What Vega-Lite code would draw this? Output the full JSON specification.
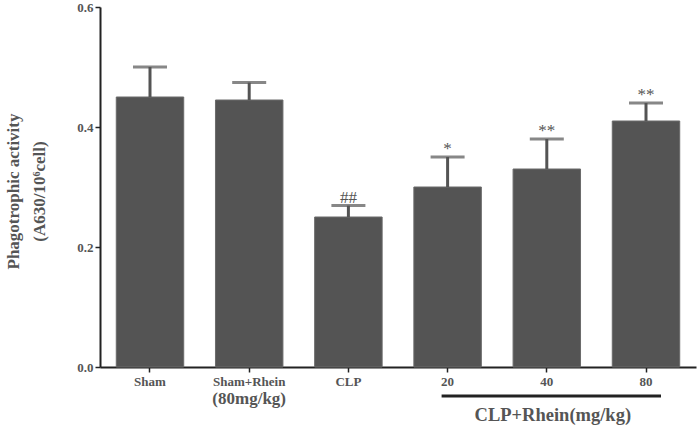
{
"$schema":"https://vega.github.io/schema/vega-lite/v6.json",
"width":596,"height":360,
"autosize":"none",
"padding":{"left":100,"top":7,"right":4,"bottom":60},
"background":"white",
"config":{"view":{"stroke":null},"font":"Liberation Serif",
 "axisY":{"labelFont":"Liberation Serif","labelFontWeight":"bold","labelFontSize":13,"labelColor":"#555555","labelPadding":2,
    "domainColor":"#222222","domainWidth":2,"tickColor":"#222222","tickWidth":1.5,"tickSize":5,"grid":false,
    "titleFont":"Liberation Serif","titleFontWeight":"bold","titleFontSize":17,"titleColor":"#555555","titleLineHeight":26,
    "titleX":-95,"titleY":184,"titleBaseline":"top","titleAngle":-90,"titleAlign":"center"}},
"datasets":{
 "bars":[
  {"group":"Sham","value":0.45,"upper":0.50,"sig":""},
  {"group":"Sham+Rhein (80mg/kg)","value":0.445,"upper":0.474,"sig":""},
  {"group":"CLP","value":0.25,"upper":0.269,"sig":"##"},
  {"group":"20","value":0.30,"upper":0.35,"sig":"*"},
  {"group":"40","value":0.33,"upper":0.38,"sig":"**"},
  {"group":"80","value":0.41,"upper":0.44,"sig":"**"}
 ],
 "notes":[{"group":"Sham+Rhein (80mg/kg)","y":-0.053,"text":"(80mg/kg)"}],
 "bracket":[{"group":"20","group2":"80","y":-0.0483}],
 "caption":[{"group":"40","y":-0.08,"text":"CLP+Rhein(mg/kg)"}]
},
"encoding":{
 "x":{"field":"group","type":"nominal",
  "scale":{"domain":["Sham","Sham+Rhein (80mg/kg)","CLP","20","40","80"],"paddingInner":0.32,"paddingOuter":0.164},
  "axis":{"title":null,"labelAngle":0,"labelFont":"Liberation Serif","labelFontWeight":"bold","labelFontSize":13,"labelColor":"#555555",
   "labelExpr":"datum.value == 'Sham+Rhein (80mg/kg)' ? 'Sham+Rhein' : datum.label",
   "domainColor":"#222222","domainWidth":2,"tickColor":"#222222","tickWidth":1.5,"tickSize":5,"labelPadding":3,"grid":false}}
},
"layer":[
 {"data":{"name":"bars"},
  "mark":{"type":"bar","color":"#545454","stroke":"#6a6a6a","strokeWidth":1},
  "encoding":{"y":{"field":"value","type":"quantitative","scale":{"domain":[0,0.6],"nice":false},
   "title":["Phagotrophic activity","(A630/10⁶cell)"],"axis":{"values":[0,0.2,0.4,0.6],"format":".1f"}}}},
 {"data":{"name":"bars"},
  "mark":{"type":"rule","color":"#545454","strokeWidth":3},
  "encoding":{"y":{"field":"value","type":"quantitative","scale":{"domain":[0,0.6],"nice":false},
   "title":["Phagotrophic activity","(A630/10⁶cell)"],"axis":{"values":[0,0.2,0.4,0.6],"format":".1f"}},
   "y2":{"field":"upper"}}},
 {"data":{"name":"bars"},
  "mark":{"type":"tick","color":"#545454","thickness":3,"size":34,"orient":"horizontal"},
  "encoding":{"y":{"field":"upper","type":"quantitative","scale":{"domain":[0,0.6],"nice":false},
   "title":["Phagotrophic activity","(A630/10⁶cell)"],"axis":{"values":[0,0.2,0.4,0.6],"format":".1f"}}}},
 {"data":{"name":"bars"},
  "mark":{"type":"text","color":"#555555","font":"Liberation Serif","fontSize":17,"baseline":"alphabetic","dy":-3},
  "encoding":{"y":{"field":"upper","type":"quantitative","scale":{"domain":[0,0.6],"nice":false},
   "title":["Phagotrophic activity","(A630/10⁶cell)"],"axis":{"values":[0,0.2,0.4,0.6],"format":".1f"}},
   "text":{"field":"sig"}}},
 {"data":{"name":"notes"},
  "mark":{"type":"text","color":"#555555","font":"Liberation Serif","fontWeight":"bold","fontSize":17,"baseline":"middle"},
  "encoding":{"y":{"field":"y","type":"quantitative","scale":{"domain":[0,0.6],"nice":false},
   "title":["Phagotrophic activity","(A630/10⁶cell)"],"axis":{"values":[0,0.2,0.4,0.6],"format":".1f"}},
   "text":{"field":"text"}}},
 {"data":{"name":"bracket"},
  "mark":{"type":"rule","color":"#222222","strokeWidth":3,"xOffset":-6,"x2Offset":15},
  "encoding":{"x2":{"field":"group2"},
   "y":{"field":"y","type":"quantitative","scale":{"domain":[0,0.6],"nice":false},
   "title":["Phagotrophic activity","(A630/10⁶cell)"],"axis":{"values":[0,0.2,0.4,0.6],"format":".1f"}}}},
 {"data":{"name":"caption"},
  "mark":{"type":"text","color":"#555555","font":"Liberation Serif","fontWeight":"bold","fontSize":18.5,"baseline":"middle","dx":6},
  "encoding":{"y":{"field":"y","type":"quantitative","scale":{"domain":[0,0.6],"nice":false},
   "title":["Phagotrophic activity","(A630/10⁶cell)"],"axis":{"values":[0,0.2,0.4,0.6],"format":".1f"}},
   "text":{"field":"text"}}}
]
}
